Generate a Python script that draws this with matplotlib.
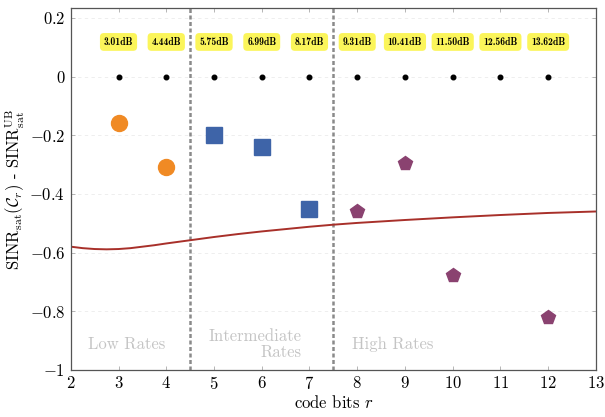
import numpy as np
import matplotlib
matplotlib.use("Agg")
import matplotlib.pyplot as plt

plt.rcParams['font.family'] = 'serif'
plt.rcParams['font.serif'] = ['cmr10']
plt.rcParams['mathtext.fontset'] = 'cm'
plt.rcParams['axes.formatter.use_mathtext'] = True

# data
low_r = [3, 4]
low_v = [-0.16, -0.31]
mid_r = [5, 6, 7]
mid_v = [-0.20, -0.24, -0.45]
high_r = [8, 9, 10, 12]
high_v = [-0.46, -0.293, -0.675, -0.82]

db_r = [3, 4, 5, 6, 7, 8, 9, 10, 11, 12]
db_labels = ["3.01dB", "4.44dB", "5.75dB", "6.99dB", "8.17dB",
             "9.31dB", "10.41dB", "11.50dB", "12.56dB", "13.62dB"]

curve_r = [2, 2.25, 2.5, 2.75, 3, 3.25, 3.5, 3.75, 4, 4.5, 5, 5.5, 6, 6.5,
           7, 7.5, 8, 9, 10, 11, 12, 13]
curve_v = [-0.580, -0.585, -0.588, -0.589, -0.588, -0.585, -0.580, -0.575,
           -0.569, -0.558, -0.547, -0.537, -0.528, -0.520, -0.512, -0.505,
           -0.499, -0.489, -0.480, -0.472, -0.465, -0.460]

xticks = list(range(2, 14))
yticks = [0.2, 0, -0.2, -0.4, -0.6, -0.8, -1]
ytick_labels = ["$0.2$", "$0$", "$-0.2$", "$-0.4$", "$-0.6$", "$-0.8$", "$-1$"]

fig = plt.figure(figsize=(6.05, 4.17), dpi=100)
ax = fig.add_axes([0.117, 0.113, 0.868, 0.868])

for y in yticks:
    ax.axhline(y, color="#ebebeb", lw=0.6, ls=(0, (4, 4)), zorder=0)

ax.axvline(4.5, color="#8a8a8a", lw=1.8, ls=(0, (1.6, 1.0)), zorder=1)
ax.axvline(7.5, color="#8a8a8a", lw=1.8, ls=(0, (1.6, 1.0)), zorder=1)

ax.plot(curve_r, curve_v, color="#a8302a", lw=1.4, zorder=2)

ax.plot(low_r, low_v, "o", color="#f08a24", ms=11.5, mec="#f08a24", zorder=3)
ax.plot(mid_r, mid_v, "s", color="#3e64a8", ms=11, mec="#3e64a8", zorder=3)
ax.plot(high_r, high_v, "p", color="#8a4270", ms=10, mec="#8a4270", zorder=3)

ax.plot(db_r, [0] * len(db_r), "o", color="black", ms=3.3, zorder=3)
for r, lab in zip(db_r, db_labels):
    ax.text(r, 0.118, lab, ha="center", va="center", fontsize=7, family="cmb10",
            bbox=dict(boxstyle="round,pad=0.4,rounding_size=0.4",
                      fc="#fbf55a", ec="none"))

grey = "#c4c4c4"
ax.text(3.17, -0.913, "Low Rates", ha="center", va="center", fontsize=12, color=grey)
ax.text(4.89, -0.886, "Intermediate", ha="left", va="center", fontsize=12, color=grey)
ax.text(6.84, -0.94, "Rates", ha="right", va="center", fontsize=12, color=grey)
ax.text(8.74, -0.913, "High Rates", ha="center", va="center", fontsize=12, color=grey)

ax.set_xlim(2, 13)
ax.set_ylim(-1, 0.234)
ax.set_xticks(xticks)
ax.set_xticklabels(["$%d$" % t for t in xticks])
ax.set_yticks(yticks)
ax.set_yticklabels(ytick_labels)
ax.tick_params(direction="in", length=3, width=0.6, color="#aaaaaa",
               labelsize=12, top=True, right=True, pad=4)
for s in ax.spines.values():
    s.set_color("#555555")
    s.set_linewidth(0.9)

ax.set_xlabel("code bits $r$", fontsize=12, labelpad=1)
ax.set_ylabel(r"$\mathrm{SINR}_{\mathrm{sat}}(\mathcal{C}_r)$ - $\mathrm{SINR}_{\mathrm{sat}}^{\mathrm{UB}}$",
              fontsize=12, labelpad=2)

fig.savefig("out.png", dpi=100)
